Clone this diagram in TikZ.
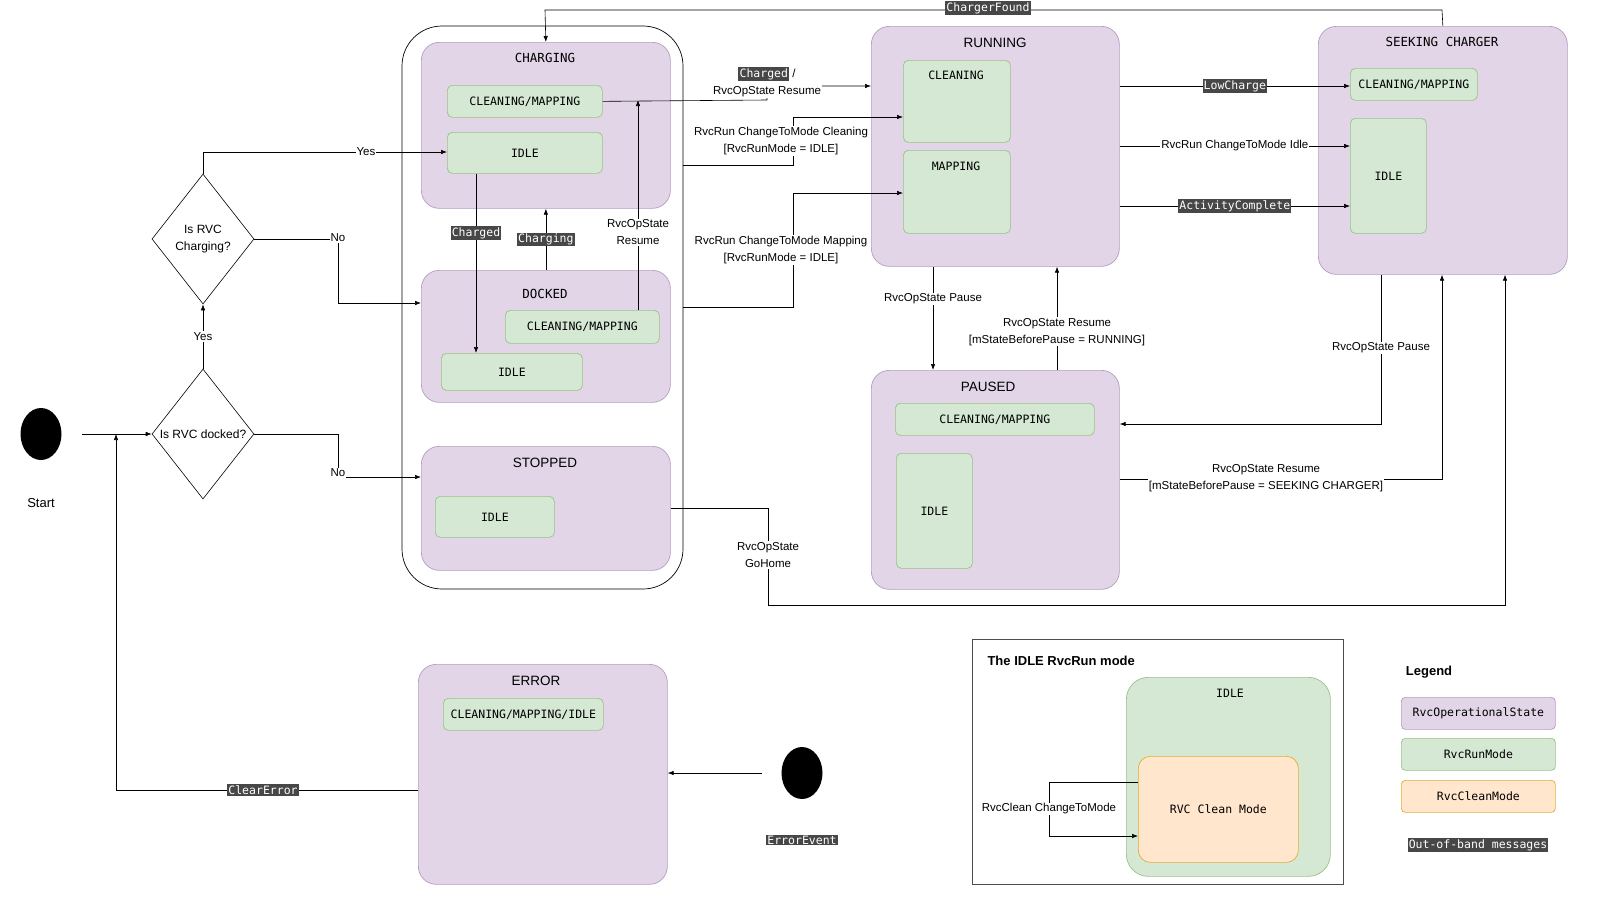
\documentclass[tikz,border=0pt]{standalone}
\usepackage{fontspec}
\setmainfont{Liberation Sans}
\setmonofont{DejaVu Sans Mono}
\usetikzlibrary{arrows.meta,shapes.geometric}
\definecolor{opfill}{HTML}{E1D5E7}\definecolor{opline}{HTML}{9673A6}
\definecolor{runfill}{HTML}{D5E8D4}\definecolor{runline}{HTML}{82B366}
\definecolor{clfill}{HTML}{FFE6CC}\definecolor{clline}{HTML}{D79B00}
\newcommand\oobtext[1]{{\setlength\fboxsep{1.2pt}\colorbox{black!72}{\textcolor{white}{\ttfamily\fontsize{11.5}{12}\selectfont #1}}}}
\tikzset{
  box/.style={draw, anchor=north west, inner sep=0pt, line width=0.7pt},
  opstate/.style={box, draw=opline!70, fill=opfill, rounded corners=18pt},
  runmode/.style={box, draw=runline!80, fill=runfill, rounded corners=5pt},
  cleanmode/.style={box, draw=clline!80, fill=clfill, rounded corners=12pt},
  ttl/.style={font=\fontsize{13.5}{15}\selectfont},
  mttl/.style={font=\ttfamily\fontsize{12.5}{14}\selectfont},
  mono/.style={font=\ttfamily\fontsize{11.5}{13}\selectfont},
  lbl/.style={font=\fontsize{11.5}{17}\selectfont, fill=white, inner sep=1pt, align=center},
  oob/.style={font=\ttfamily\fontsize{11.5}{12}\selectfont, fill=black!72, text=white, inner sep=1.2pt},
  flow/.style={line width=0.6pt, -{Latex[length=6pt,width=4.5pt]}},
  decide/.style={diamond, draw, line width=0.6pt, minimum width=102pt, minimum height=130pt, inner sep=0pt, align=center, font=\fontsize{12}{17}\selectfont},
  dot/.style={ellipse, fill=black, minimum width=41pt, minimum height=52pt, inner sep=0pt},
}
\begin{document}
\begin{tikzpicture}[x=1pt, y=-1pt]
\useasboundingbox (0,0) rectangle (1600,902);
% operational states
\draw[line width=0.7pt, rounded corners=40pt] (402,26) rectangle (683,589);
\node[opstate, minimum width=249pt, minimum height=166pt] (charging) at (421,42) {};
\node[mttl] at (545,58) {CHARGING};
\node[runmode, minimum width=155pt, minimum height=32pt] (chargingCM) at (447,85) {};
\node[mono] at (chargingCM.center) {CLEANING/MAPPING};
\node[runmode, minimum width=155pt, minimum height=41pt] (chargingI) at (447,132) {};
\node[mono] at (chargingI.center) {IDLE};
\node[opstate, minimum width=249pt, minimum height=132pt] (docked) at (421,270) {};
\node[mttl] at (545,294) {DOCKED};
\node[runmode, minimum width=154pt, minimum height=33pt] (dockedCM) at (505,310) {};
\node[mono] at (dockedCM.center) {CLEANING/MAPPING};
\node[runmode, minimum width=141pt, minimum height=37pt] (dockedI) at (441,353) {};
\node[mono] at (dockedI.center) {IDLE};
\node[opstate, minimum width=249pt, minimum height=124pt] (stopped) at (421,446) {};
\node[ttl] at (545,463) {STOPPED};
\node[runmode, minimum width=119pt, minimum height=41pt] (stoppedI) at (435,496) {};
\node[mono] at (stoppedI.center) {IDLE};
\node[opstate, minimum width=248pt, minimum height=240pt] (running) at (871,26) {};
\node[ttl] at (995,43) {RUNNING};
\node[runmode, minimum width=107pt, minimum height=82pt] (runningC) at (903,60) {};
\node[mono] at (956,75) {CLEANING};
\node[runmode, minimum width=107pt, minimum height=83pt] (runningM) at (903,150) {};
\node[mono] at (956,166) {MAPPING};
\node[opstate, minimum width=249pt, minimum height=248pt] (seeking) at (1318,26) {};
\node[mttl] at (1442,42) {SEEKING CHARGER};
\node[runmode, minimum width=127pt, minimum height=32pt] (seekingCM) at (1350,68) {};
\node[mono] at (seekingCM.center) {CLEANING/MAPPING};
\node[runmode, minimum width=76pt, minimum height=115pt] (seekingI) at (1350,118) {};
\node[mono] at (seekingI.center) {IDLE};
\node[opstate, minimum width=248pt, minimum height=219pt] (paused) at (871,370) {};
\node[ttl] at (988,387) {PAUSED};
\node[runmode, minimum width=199pt, minimum height=32pt] (pausedCM) at (895,403) {};
\node[mono] at (pausedCM.center) {CLEANING/MAPPING};
\node[runmode, minimum width=76pt, minimum height=115pt] (pausedI) at (896,453) {};
\node[mono] at (pausedI.center) {IDLE};
\node[opstate, minimum width=249pt, minimum height=220pt] (error) at (418,664) {};
\node[ttl] at (536,681) {ERROR};
\node[runmode, minimum width=160pt, minimum height=32pt] (errorCMI) at (443,698) {};
\node[mono] at (errorCMI.center) {CLEANING/MAPPING/IDLE};
% start, decisions, events
\node[dot] (start) at (41,434) {};
\node[ttl, font=\fontsize{13}{14}\selectfont] at (41,503) {Start};
\coordinate (startOut) at (82,434);
\node[decide] (isDocked) at (203,434) {Is RVC docked?};
\node[decide] (isCharging) at (203,239) {Is RVC\\Charging?};
\node[dot] (errEvent) at (802,773) {};
\coordinate (errOut) at (762,773);
\node[oob] at (802,840) {ErrorEvent};
% transitions
\draw[flow] (startOut) -- (isDocked.west);
\draw[flow] (isDocked.north) -- node[lbl]{Yes} (isCharging.south);
\draw[flow] (isDocked.east) -- (338,434) -- (338,477) -- (stopped.west |- 0,477);
\node[lbl] at (338,473) {No};
\draw[flow] (isCharging.north) -- (203,152) -- (chargingI.west |- 0,152);
\node[lbl] at (366,152) {Yes};
\draw[flow] (isCharging.east) -- (338,239) -- (338,303) -- (docked.west |- 0,303);
\node[lbl] at (338,238) {No};
\draw[flow] (chargingI.south -| 476,0) -- node[oob, pos=0.33]{Charged} (dockedI.north -| 476,0);
\draw[flow] (docked.north) -- node[oob]{Charging} (charging.south);
\draw[flow] (dockedCM.north -| 638,0) -- node[lbl, pos=0.37]{RvcOpState\\Resume} (638,100);
\draw[flow] (chargingCM.east) -- (767,100) -- (767,86) -- (running.west |- 0,86);
\node[lbl] at (767,82) {\oobtext{Charged} /\\RvcOpState Resume};
\draw[flow] (683,165) -- (793,165) -- (793,117) -- (runningC.west |- 0,117);
\node[lbl] at (781,141) {RvcRun ChangeToMode Cleaning\\{}[RvcRunMode = IDLE]};
\draw[flow] (683,307) -- (793,307) -- (793,193) -- (runningM.west |- 0,193);
\node[lbl] at (781,250) {RvcRun ChangeToMode Mapping\\{}[RvcRunMode = IDLE]};
\draw[flow] (stopped.east |- 0,508) -- (768,508) -- (768,605) -- (1505,605) -- (seeking.south -| 1505,0);
\node[lbl] at (768,555) {RvcOpState\\GoHome};
\draw[flow] (seeking.north) -- (1442,10) -- (545,10) -- (charging.north);
\node[oob] at (988,8) {ChargerFound};
\draw[flow] (running.east |- 0,86) -- node[oob]{LowCharge} (seekingCM.west |- 0,86);
\draw[flow] (running.east |- 0,146) -- node[lbl]{RvcRun ChangeToMode Idle} (seekingI.west |- 0,146);
\draw[flow] (running.east |- 0,206) -- node[oob]{ActivityComplete} (seekingI.west |- 0,206);
\draw[flow] (running.south -| 933,0) -- node[lbl, pos=0.31]{RvcOpState Pause} (paused.north -| 933,0);
\draw[flow] (paused.north -| 1057,0) -- node[lbl, pos=0.37]{RvcOpState Resume\\{}[mStateBeforePause = RUNNING]} (running.south -| 1057,0);
\draw[flow] (seeking.south -| 1381,0) -- (1381,424) -- (paused.east |- 0,424);
\node[lbl] at (1381,348) {RvcOpState Pause};
\draw[flow] (paused.east |- 0,479) -- (1442,479) -- (seeking.south -| 1442,0);
\node[lbl] at (1266,478) {RvcOpState Resume\\{}[mStateBeforePause = SEEKING CHARGER]};
\draw[flow] (error.west |- 0,790) -- (116,790) -- (116,434);
\node[oob] at (263,790) {ClearError};
\draw[flow] (errOut) -- (error.east |- errOut);
% IDLE RvcRun mode panel
\draw[line width=0.6pt, draw=black!70] (972,639) rectangle (1343,884);
\node[anchor=west, font=\bfseries\fontsize{13}{15}\selectfont] at (984,661) {The IDLE RvcRun mode};
\node[runmode, rounded corners=22pt, minimum width=204pt, minimum height=199pt] (idleMode) at (1126,677) {};
\node[mono] at (1230,693) {IDLE};
\node[cleanmode, minimum width=160pt, minimum height=106pt] (cleanMode) at (1138,756) {};
\node[mono] at (cleanMode.center) {RVC Clean Mode};
\draw[flow] (cleanMode.west |- 0,782) -- (1049,782) -- (1049,836) -- (cleanMode.west |- 0,836);
\node[lbl] at (1049,809) {RvcClean ChangeToMode};
% legend
\node[font=\bfseries\fontsize{13}{15}\selectfont] at (1429,672) {Legend};
\node[opstate, rounded corners=4pt, minimum width=154pt, minimum height=32pt] (legOp) at (1401,697) {};
\node[mono] at (legOp.center) {RvcOperationalState};
\node[runmode, rounded corners=4pt, minimum width=154pt, minimum height=32pt] (legRun) at (1401,738) {};
\node[mono] at (legRun.center) {RvcRunMode};
\node[cleanmode, rounded corners=4pt, minimum width=154pt, minimum height=32pt] (legClean) at (1401,780) {};
\node[mono] at (legClean.center) {RvcCleanMode};
\node[oob] at (1478,845) {Out-of-band messages};
\end{tikzpicture}
\end{document}
